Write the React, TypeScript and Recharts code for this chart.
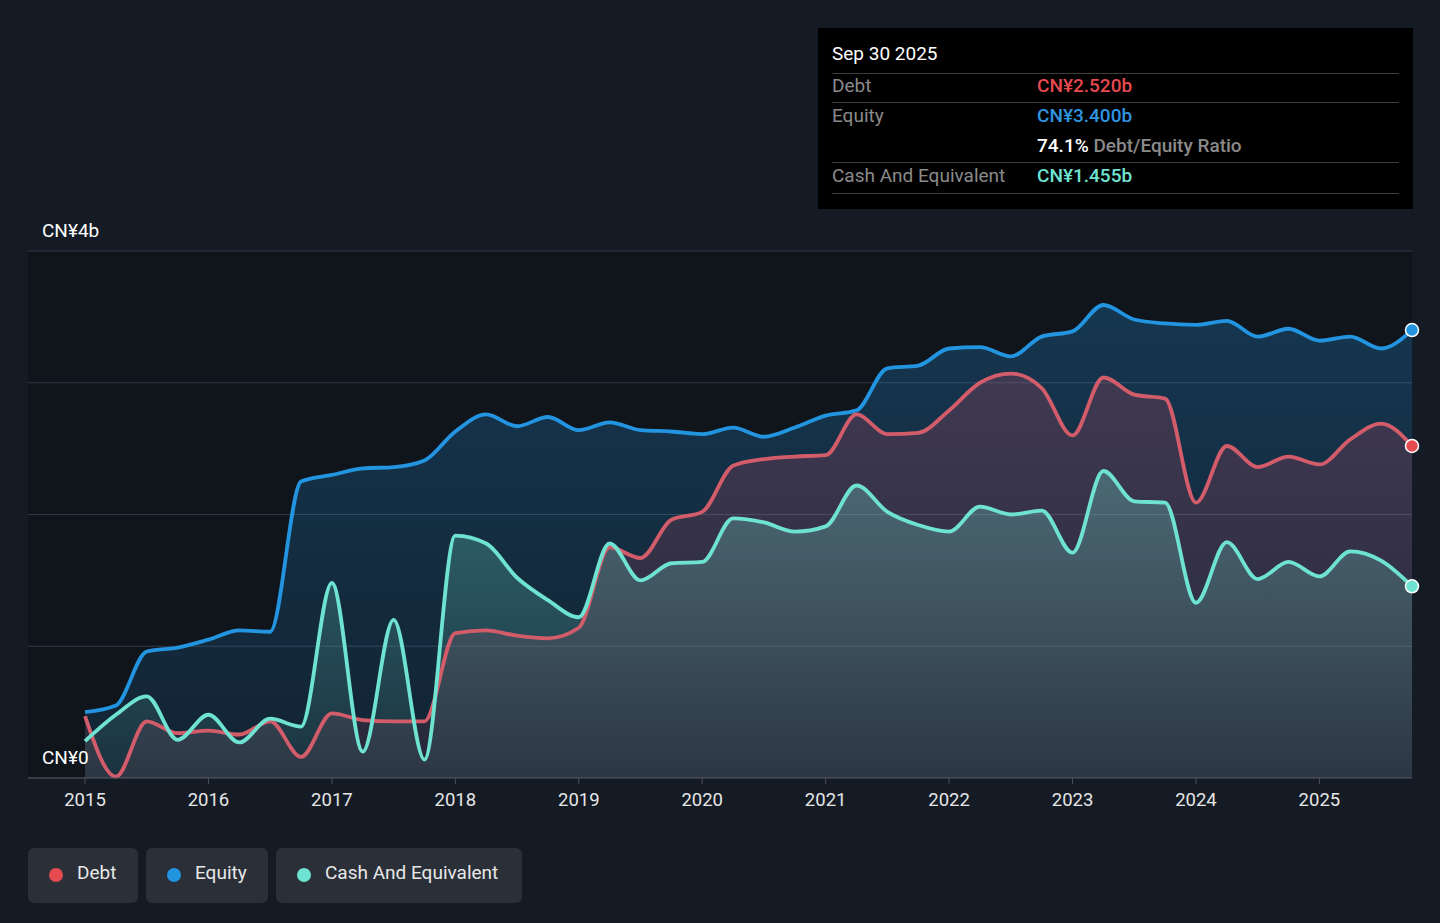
import React from "react";
import {
  ComposedChart,
  Area,
  Line,
  XAxis,
  YAxis,
  CartesianGrid,
} from "recharts";

// quarter ends, Dec 2014 .. Sep 2025 (as fractional years)
const periods = [
  2015, 2015.25, 2015.5, 2015.75, 2016, 2016.25, 2016.5, 2016.75,
  2017, 2017.25, 2017.5, 2017.75, 2018, 2018.25, 2018.5, 2018.75,
  2019, 2019.25, 2019.5, 2019.75, 2020, 2020.25, 2020.5, 2020.75,
  2021, 2021.25, 2021.5, 2021.75, 2022, 2022.25, 2022.5, 2022.75,
  2023, 2023.25, 2023.5, 2023.75, 2024, 2024.25, 2024.5, 2024.75,
  2025, 2025.25, 2025.5, 2025.75,
];

// CN¥ billions
const equity = [
  0.5, 0.55, 0.96, 0.99, 1.05, 1.12, 1.11, 2.25,
  2.3, 2.35, 2.36, 2.41, 2.63, 2.76, 2.67, 2.74,
  2.64, 2.7, 2.64, 2.63, 2.61, 2.66, 2.59, 2.66,
  2.75, 2.79, 3.11, 3.13, 3.26, 3.27, 3.2, 3.35,
  3.39, 3.59, 3.48, 3.45, 3.44, 3.47, 3.35, 3.41,
  3.32, 3.35, 3.26, 3.4,
];

const debt = [
  0.47, 0.01, 0.43, 0.34, 0.36, 0.33, 0.43, 0.16,
  0.49, 0.44, 0.43, 0.43, 1.1, 1.12, 1.08, 1.06,
  1.14, 1.75, 1.67, 1.96, 2.02, 2.37, 2.42, 2.44,
  2.45, 2.76, 2.61, 2.62, 2.79, 3.0, 3.07, 2.96,
  2.6, 3.04, 2.91, 2.88, 2.09, 2.52, 2.36, 2.44,
  2.38, 2.57, 2.69, 2.52,
];

const cash = [
  0.28, 0.48, 0.62, 0.29, 0.48, 0.27, 0.45, 0.39,
  1.48, 0.2, 1.2, 0.14, 1.84, 1.78, 1.52, 1.35,
  1.22, 1.78, 1.5, 1.63, 1.64, 1.97, 1.94, 1.87,
  1.91, 2.22, 2.02, 1.92, 1.87, 2.06, 2.0, 2.03,
  1.71, 2.33, 2.1, 2.09, 1.33, 1.79, 1.51, 1.64,
  1.53, 1.72, 1.65, 1.455,
];

const yearTicks = [2015, 2016, 2017, 2018, 2019, 2020, 2021, 2022, 2023, 2024, 2025];
const valueTicks = [0, 1, 2, 3, 4];
const valueLabels: Record<number, string> = { 0: "CN¥0", 4: "CN¥4b" };

const tooltipRows = [
  { label: "Debt", value: "CN¥2.520b", color: "#e8494f" },
  { label: "Equity", value: "CN¥3.400b", color: "#2f95e0" },
  { label: "", value: "74.1%", color: "#ffffff", suffix: " Debt/Equity Ratio" },
  { label: "Cash And Equivalent", value: "CN¥1.455b", color: "#6fe3d1" },
];

const legendItems = [
  { name: "Debt", color: "#e64b4f", width: 110 },
  { name: "Equity", color: "#2394df", width: 122 },
  { name: "Cash And Equivalent", color: "#6fe3d1", width: 246 },
];

const DEBT = "#d35c6b";
const EQUITY = "#2394df";
const CASH = "#6fe3d1";

const data = periods.map((t, i) => ({
  t,
  equity: equity[i],
  debt: debt[i],
  cash: cash[i],
}));

const FONT = "Roboto, 'Noto Sans', sans-serif";

function lastDot(color: string) {
  return (props: any) => {
    const { cx, cy, index } = props;
    if (index !== data.length - 1) return <g key={`d${index}`} />;
    return <circle key={`d${index}`} cx={cx} cy={cy} r={6.5} fill={color} stroke="#ffffff" strokeWidth={1.5} />;
  };
}

function renderValueTick(props: any) {
  const { y, payload } = props;
  const label = valueLabels[payload.value];
  if (!label) return <g key={`t${payload.value}`} />;
  return (
    <text key={`t${payload.value}`} x={42} y={y - 14} fill="#ffffff" fontSize={19} fontFamily={FONT}>
      {label}
    </text>
  );
}

function TooltipBox() {
  const sep = (top: number) => (
    <div style={{ position: "absolute", left: 14, right: 14, top, height: 1, background: "#3d3d3d" }} />
  );
  const rowTops = [47, 77, 107, 137];
  return (
    <div
      style={{
        position: "absolute",
        left: 818,
        top: 28,
        width: 595,
        height: 181,
        background: "#000000",
        fontFamily: FONT,
      }}
    >
      <div style={{ position: "absolute", left: 14, top: 14, fontSize: 19, color: "#ffffff" }}>Sep 30 2025</div>
      {sep(45)}
      {sep(74)}
      {sep(134)}
      {sep(165)}
      {tooltipRows.map((r, i) => (
        <React.Fragment key={i}>
          <div style={{ position: "absolute", left: 14, top: rowTops[i], fontSize: 19, color: "#8a8a8a", lineHeight: "22px" }}>
            {r.label}
          </div>
          <div style={{ position: "absolute", left: 219, top: rowTops[i], fontSize: 19, lineHeight: "22px" }}>
            <span style={{ color: r.color, fontWeight: 500 }}>{r.value}</span>
            {r.suffix && <span style={{ color: "#8a8a8a", fontWeight: 500 }}>{r.suffix}</span>}
          </div>
        </React.Fragment>
      ))}
    </div>
  );
}

function LegendBar() {
  let left = 28;
  return (
    <>
      {legendItems.map((item) => {
        const el = (
          <div
            key={item.name}
            style={{
              position: "absolute",
              left,
              top: 848,
              width: item.width,
              height: 55,
              background: "#2a2f38",
              borderRadius: 6,
              fontFamily: FONT,
            }}
          >
            <div
              style={{
                position: "absolute",
                left: 21,
                top: 20,
                width: 14,
                height: 14,
                borderRadius: 7,
                background: item.color,
              }}
            />
            <div style={{ position: "absolute", left: 49, top: 14, fontSize: 19, color: "#e8e8e8", lineHeight: "22px" }}>
              {item.name}
            </div>
          </div>
        );
        left += item.width + 8;
        return el;
      })}
    </>
  );
}

export default function App() {
  return (
    <div style={{ position: "absolute", left: 0, top: 0, width: 1440, height: 923, background: "#151b24", overflow: "hidden" }}>
      <ComposedChart
        width={1440}
        height={923}
        data={data}
        margin={{ top: 251, right: 28, bottom: 115, left: 18 }}
      >
        <defs>
          <linearGradient id="gEquity" x1="0" y1="0" x2="0" y2="1">
            <stop offset="0%" stopColor={EQUITY} stopOpacity={0.27} />
            <stop offset="100%" stopColor={EQUITY} stopOpacity={0.12} />
          </linearGradient>
          <linearGradient id="gDebt" x1="0" y1="0" x2="0" y2="1">
            <stop offset="0%" stopColor="#d74b64" stopOpacity={0.22} />
            <stop offset="100%" stopColor="#d74b64" stopOpacity={0.1} />
          </linearGradient>
          <linearGradient id="gCash" x1="0" y1="0" x2="0" y2="1">
            <stop offset="0%" stopColor="#74e2cc" stopOpacity={0.3} />
            <stop offset="100%" stopColor="#74e2cc" stopOpacity={0.08} />
          </linearGradient>
        </defs>
        <CartesianGrid vertical={false} stroke="#323844" fill="#10141b" />
        <XAxis
          dataKey="t"
          type="number"
          domain={[2014.538, 2025.75]}
          ticks={yearTicks}
          height={30}
          tickSize={6}
          tickMargin={9}
          stroke="#4b515b"
          tick={{ fill: "#e6e6e6", fontSize: 18.5, fontFamily: FONT }}
          interval={0}
        />
        <YAxis
          domain={[0, 4]}
          ticks={valueTicks}
          width={10}
          axisLine={false}
          tickLine={false}
          tick={renderValueTick}
        />
        <Area type="monotone" dataKey="equity" stroke="none" fill="url(#gEquity)" fillOpacity={1} isAnimationActive={false} />
        <Area type="monotone" dataKey="debt" stroke="none" fill="url(#gDebt)" fillOpacity={1} isAnimationActive={false} />
        <Area type="monotone" dataKey="cash" stroke="none" fill="url(#gCash)" fillOpacity={1} isAnimationActive={false} />
        <Line type="monotone" dataKey="equity" stroke={EQUITY} strokeWidth={3.8} dot={lastDot(EQUITY)} activeDot={false} isAnimationActive={false} />
        <Line type="monotone" dataKey="debt" stroke={DEBT} strokeWidth={3.8} dot={lastDot("#e64b4f")} activeDot={false} isAnimationActive={false} />
        <Line type="monotone" dataKey="cash" stroke={CASH} strokeWidth={3.8} dot={lastDot(CASH)} activeDot={false} isAnimationActive={false} />
      </ComposedChart>
      <TooltipBox />
      <LegendBar />
    </div>
  );
}
